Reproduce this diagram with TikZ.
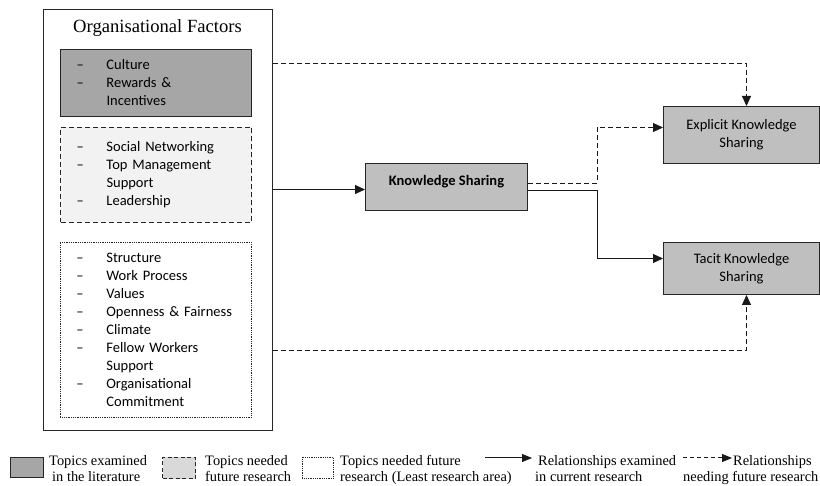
\documentclass[tikz,border=0pt]{standalone}
\usepackage{fontspec}
\setmainfont{Carlito}
\newfontfamily\tnr{Liberation Serif}
\usetikzlibrary{arrows.meta,calc}
\newcommand\itm[1]{\makebox[30pt][l]{–}#1}
\newcommand\cnt[1]{\hspace*{30pt}#1}
\definecolor{darkfill}{HTML}{A6A6A6}
\definecolor{ksfill}{HTML}{BFBFBF}
\definecolor{lightfill}{HTML}{F2F2F2}
\definecolor{legfill}{HTML}{D9D9D9}
\begin{document}
\begin{tikzpicture}[x=1pt,y=-1pt,
  cal/.style={font=\fontsize{14.5}{18}\selectfont},
  serif/.style={font=\tnr\fontsize{14.4}{16}\selectfont},
  frame/.style={draw=black!85,line width=1pt,inner sep=0pt},
  listbox/.style={frame,cal,align=left,text width=159pt,inner xsep=16pt,inner ysep=0pt,anchor=north west,minimum width=191pt},
  litbox/.style={listbox,fill=darkfill},
  futbox/.style={listbox,fill=lightfill,dash pattern=on 5pt off 3pt},
  leastbox/.style={listbox,line width=0.8pt,dash pattern=on 1pt off 0.8pt},
  ksbox/.style={frame,fill=ksfill,cal,align=center,anchor=north west},
  solidarr/.style={draw=black!90,line width=1pt,-{Triangle[length=10pt,width=9pt]}},
  dasharr/.style={solidarr,dash pattern=on 5pt off 3pt},
  legtext/.style={serif,anchor=base west,inner sep=0pt}
]
\useasboundingbox (0,0) rectangle (820,486);

% outer frame
\node[frame,anchor=north west,minimum width=229pt,minimum height=421pt] (outer) at (43,9) {};
\node[font=\tnr\fontsize{18.6}{22}\selectfont] (title) at (157.5,28) {Organisational Factors};

\node[litbox,minimum height=67pt] (lit) at (60,49)
  {\itm{Culture}\\\itm{Rewards \&}\\\cnt{Incentives}};
\node[futbox,minimum height=95pt] (fut) at (60,127)
  {\itm{Social Networking}\\\itm{Top Management}\\\cnt{Support}\\\itm{Leadership}};
\node[leastbox,minimum height=175pt] (least) at (60,242)
  {\itm{Structure}\\\itm{Work Process}\\\itm{Values}\\\itm{Openness \& Fairness}\\\itm{Climate}\\\itm{Fellow Workers}\\\cnt{Support}\\\itm{Organisational}\\\cnt{Commitment}};

% knowledge boxes
\node[ksbox,minimum width=162pt,minimum height=47pt,font=\bfseries\fontsize{14.5}{18}\selectfont] (ks) at (365,163) {\raisebox{5.5pt}[\height][\depth]{Knowledge Sharing}};
\node[ksbox,minimum width=156pt,minimum height=57pt] (exp) at (663,106) {Explicit Knowledge\\Sharing};
\node[ksbox,minimum width=156pt,minimum height=52pt] (tac) at (663,242) {Tacit Knowledge\\Sharing};

% connectors
\coordinate (ksin) at ($(ks.west)+(0,2.5)$);
\coordinate (ytop) at (0,64);
\coordinate (ybot) at (0,351);
\draw[solidarr] (outer.east |- ksin) -- (ksin);
\draw[dasharr] (outer.east |- ytop) -| ($(exp.north)+(5,0)$);
\draw[dasharr] (outer.east |- ybot) -| ($(tac.south)+(5,0)$);
\draw[dasharr] ($(ks.east)+(0,-3.5)$) -- ++(69,0) |- ($(exp.west)+(0,-7.5)$);
\draw[solidarr] ($(ks.east)+(0,3.5)$) -- ++(69,0) |- ($(tac.west)+(0,-10)$);

% legend
\node[frame,fill=darkfill,anchor=north west,minimum width=33pt,minimum height=20pt] (lg1) at (10,457) {};
\node[legtext] (lt1a) at (49,466) {Topics examined};
\node[legtext] (lt1b) at (52,482) {in the literature};
\node[frame,fill=legfill,dash pattern=on 4pt off 2.5pt,anchor=north west,minimum width=33pt,minimum height=21pt] (lg2) at (162,457) {};
\node[legtext] (lt2a) at (205,466) {Topics needed};
\node[legtext] (lt2b) at (205,482) {future research};
\node[frame,line width=0.8pt,dash pattern=on 1pt off 0.8pt,anchor=north west,minimum width=31pt,minimum height=21pt] (lg3) at (302,457) {};
\node[legtext] (lt3a) at (340,466) {Topics needed future};
\node[legtext] (lt3b) at (340,482) {research (Least research area)};
\coordinate (la1) at (485,458);
\coordinate (la2) at (532,458);
\draw[solidarr,-{Triangle[length=10pt,width=8pt]}] (la1) -- (la2);
\node[legtext] (lt4a) at (538,466) {Relationships examined};
\node[legtext] (lt4b) at (535,482) {in current research};
\coordinate (lb1) at (683,458);
\coordinate (lb2) at (732,458);
\draw[solidarr,dash pattern=on 4pt off 3pt,-{Triangle[length=10pt,width=8pt]}] (lb1) -- (lb2);
\node[legtext] (lt5a) at (733,466) {Relationships};
\node[legtext] (lt5b) at (683,482) {needing future research};
\end{tikzpicture}
\end{document}
